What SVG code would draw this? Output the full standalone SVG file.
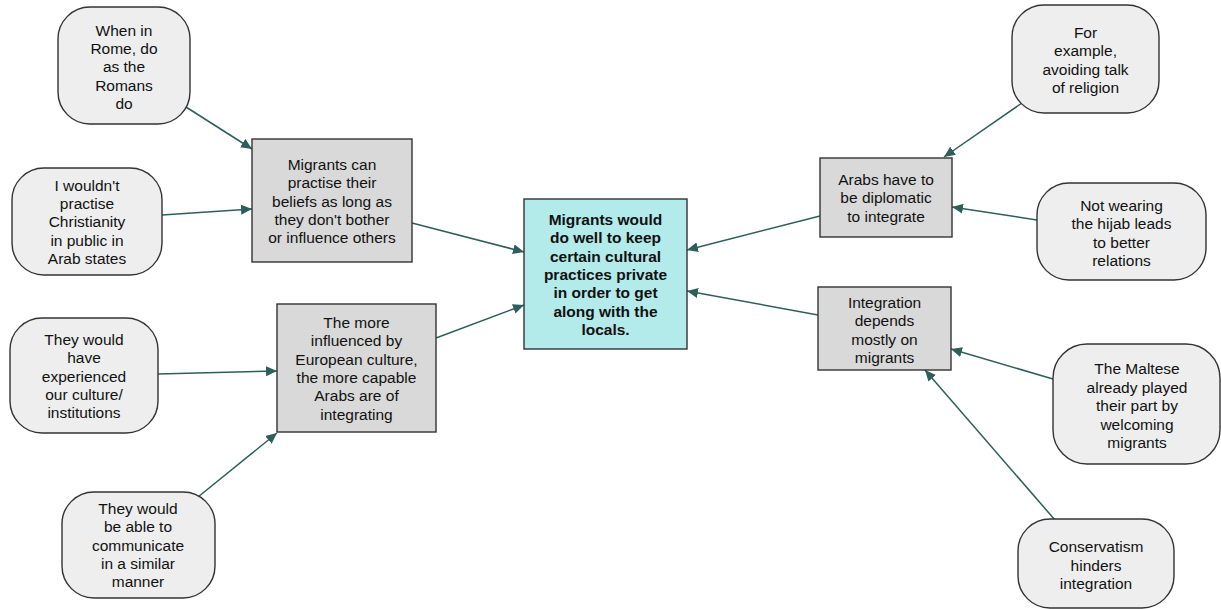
<svg xmlns="http://www.w3.org/2000/svg" width="1221" height="609" viewBox="0 0 1221 609">
  <style>
    .bubble { fill: #eeeeee; stroke: #333333; stroke-width: 1.4; }
    .claim { fill: #d9d9d9; stroke: #333333; stroke-width: 1.4; }
    .main { fill: #b3ebeb; stroke: #333333; stroke-width: 1.4; }
    text { font-family: "Liberation Sans", Arial, sans-serif; font-size: 15.5px; fill: #111111; text-anchor: middle; }
    .bold { font-weight: bold; }
    .link { stroke: #2f5e5a; stroke-width: 1.5; fill: none; marker-end: url(#arrow); }
  </style>
  <defs>
    <marker id="arrow" markerUnits="userSpaceOnUse" markerWidth="12" markerHeight="10" refX="11" refY="5" orient="auto">
      <path d="M0,0 L11,5 L0,10 z" fill="#2f5e5a"/>
    </marker>
  </defs>

  <g id="connectors">
    <line class="link" x1="186" y1="107" x2="252" y2="149"/>
    <line class="link" x1="162" y1="215" x2="252" y2="209"/>
    <line class="link" x1="158" y1="374" x2="277" y2="371"/>
    <line class="link" x1="198" y1="497" x2="277" y2="433"/>
    <line class="link" x1="412" y1="223" x2="524" y2="252"/>
    <line class="link" x1="436" y1="338" x2="524" y2="305"/>
    <line class="link" x1="820" y1="216" x2="687" y2="250"/>
    <line class="link" x1="818" y1="315" x2="687" y2="291"/>
    <line class="link" x1="1022" y1="103" x2="944" y2="157"/>
    <line class="link" x1="1037" y1="220" x2="952" y2="207"/>
    <line class="link" x1="1053" y1="379" x2="951" y2="349"/>
    <line class="link" x1="1055" y1="520" x2="925" y2="370"/>
  </g>

  <g id="rome">
    <rect class="bubble" x="58" y="7" width="132" height="117" rx="32" ry="32"/>
    <text x="124" y="36"><tspan x="124">When in</tspan><tspan x="124" dy="18.2">Rome, do</tspan><tspan x="124" dy="18.2">as the</tspan><tspan x="124" dy="18.2">Romans</tspan><tspan x="124" dy="18.2">do</tspan></text>
  </g>

  <g id="christianity">
    <rect class="bubble" x="12" y="168" width="150" height="107" rx="32" ry="32"/>
    <text x="87" y="191"><tspan x="87">I wouldn't</tspan><tspan x="87" dy="18.2">practise</tspan><tspan x="87" dy="18.2">Christianity</tspan><tspan x="87" dy="18.2">in public in</tspan><tspan x="87" dy="18.2">Arab states</tspan></text>
  </g>

  <g id="practise-beliefs">
    <rect class="claim" x="252" y="139" width="160" height="123"/>
    <text x="332" y="170"><tspan x="332">Migrants can</tspan><tspan x="332" dy="18.3">practise their</tspan><tspan x="332" dy="18.3">beliefs as long as</tspan><tspan x="332" dy="18.3">they don't bother</tspan><tspan x="332" dy="18.3">or influence others</tspan></text>
  </g>

  <g id="experienced">
    <rect class="bubble" x="10" y="318" width="148" height="115" rx="32" ry="32"/>
    <text x="84" y="345"><tspan x="84">They would</tspan><tspan x="84" dy="18.3">have</tspan><tspan x="84" dy="18.3">experienced</tspan><tspan x="84" dy="18.3">our culture/</tspan><tspan x="84" dy="18.3">institutions</tspan></text>
  </g>

  <g id="communicate">
    <rect class="bubble" x="62" y="492" width="153" height="106" rx="32" ry="32"/>
    <text x="138" y="514"><tspan x="138">They would</tspan><tspan x="138" dy="18.3">be able to</tspan><tspan x="138" dy="18.3">communicate</tspan><tspan x="138" dy="18.3">in a similar</tspan><tspan x="138" dy="18.3">manner</tspan></text>
  </g>

  <g id="european-influence">
    <rect class="claim" x="277" y="304" width="159" height="128"/>
    <text x="356.5" y="328"><tspan x="356.5">The more</tspan><tspan x="356.5" dy="18.3">influenced by</tspan><tspan x="356.5" dy="18.3">European culture,</tspan><tspan x="356.5" dy="18.3">the more capable</tspan><tspan x="356.5" dy="18.3">Arabs are of</tspan><tspan x="356.5" dy="18.3">integrating</tspan></text>
  </g>

  <g id="central-claim">
    <rect class="main" x="524" y="199" width="163" height="150"/>
    <text class="bold" x="605.5" y="225"><tspan x="605.5">Migrants would</tspan><tspan x="605.5" dy="18.3">do well to keep</tspan><tspan x="605.5" dy="18.3">certain cultural</tspan><tspan x="605.5" dy="18.3">practices private</tspan><tspan x="605.5" dy="18.3">in order to get</tspan><tspan x="605.5" dy="18.3">along with the</tspan><tspan x="605.5" dy="18.3">locals.</tspan></text>
  </g>

  <g id="avoid-religion">
    <rect class="bubble" x="1012" y="5" width="147" height="108" rx="32" ry="32"/>
    <text x="1085.5" y="38"><tspan x="1085.5">For</tspan><tspan x="1085.5" dy="18.3">example,</tspan><tspan x="1085.5" dy="18.3">avoiding talk</tspan><tspan x="1085.5" dy="18.3">of religion</tspan></text>
  </g>

  <g id="diplomatic">
    <rect class="claim" x="820" y="158" width="132" height="79"/>
    <text x="886" y="185"><tspan x="886">Arabs have to</tspan><tspan x="886" dy="18.3">be diplomatic</tspan><tspan x="886" dy="18.3">to integrate</tspan></text>
  </g>

  <g id="hijab">
    <rect class="bubble" x="1037" y="183" width="169" height="97" rx="32" ry="32"/>
    <text x="1121.5" y="211"><tspan x="1121.5">Not wearing</tspan><tspan x="1121.5" dy="18.3">the hijab leads</tspan><tspan x="1121.5" dy="18.3">to better</tspan><tspan x="1121.5" dy="18.3">relations</tspan></text>
  </g>

  <g id="depends-on-migrants">
    <rect class="claim" x="818" y="287" width="133" height="83"/>
    <text x="884.5" y="308"><tspan x="884.5">Integration</tspan><tspan x="884.5" dy="18.3">depends</tspan><tspan x="884.5" dy="18.3">mostly on</tspan><tspan x="884.5" dy="18.3">migrants</tspan></text>
  </g>

  <g id="maltese">
    <rect class="bubble" x="1053" y="344" width="167" height="120" rx="34" ry="34"/>
    <text x="1137" y="374"><tspan x="1137">The Maltese</tspan><tspan x="1137" dy="18.5">already played</tspan><tspan x="1137" dy="18.5">their part by</tspan><tspan x="1137" dy="18.5">welcoming</tspan><tspan x="1137" dy="18.5">migrants</tspan></text>
  </g>

  <g id="conservatism">
    <rect class="bubble" x="1018" y="519" width="156" height="89" rx="32" ry="32"/>
    <text x="1096" y="552"><tspan x="1096">Conservatism</tspan><tspan x="1096" dy="18.5">hinders</tspan><tspan x="1096" dy="18.5">integration</tspan></text>
  </g>
</svg>
